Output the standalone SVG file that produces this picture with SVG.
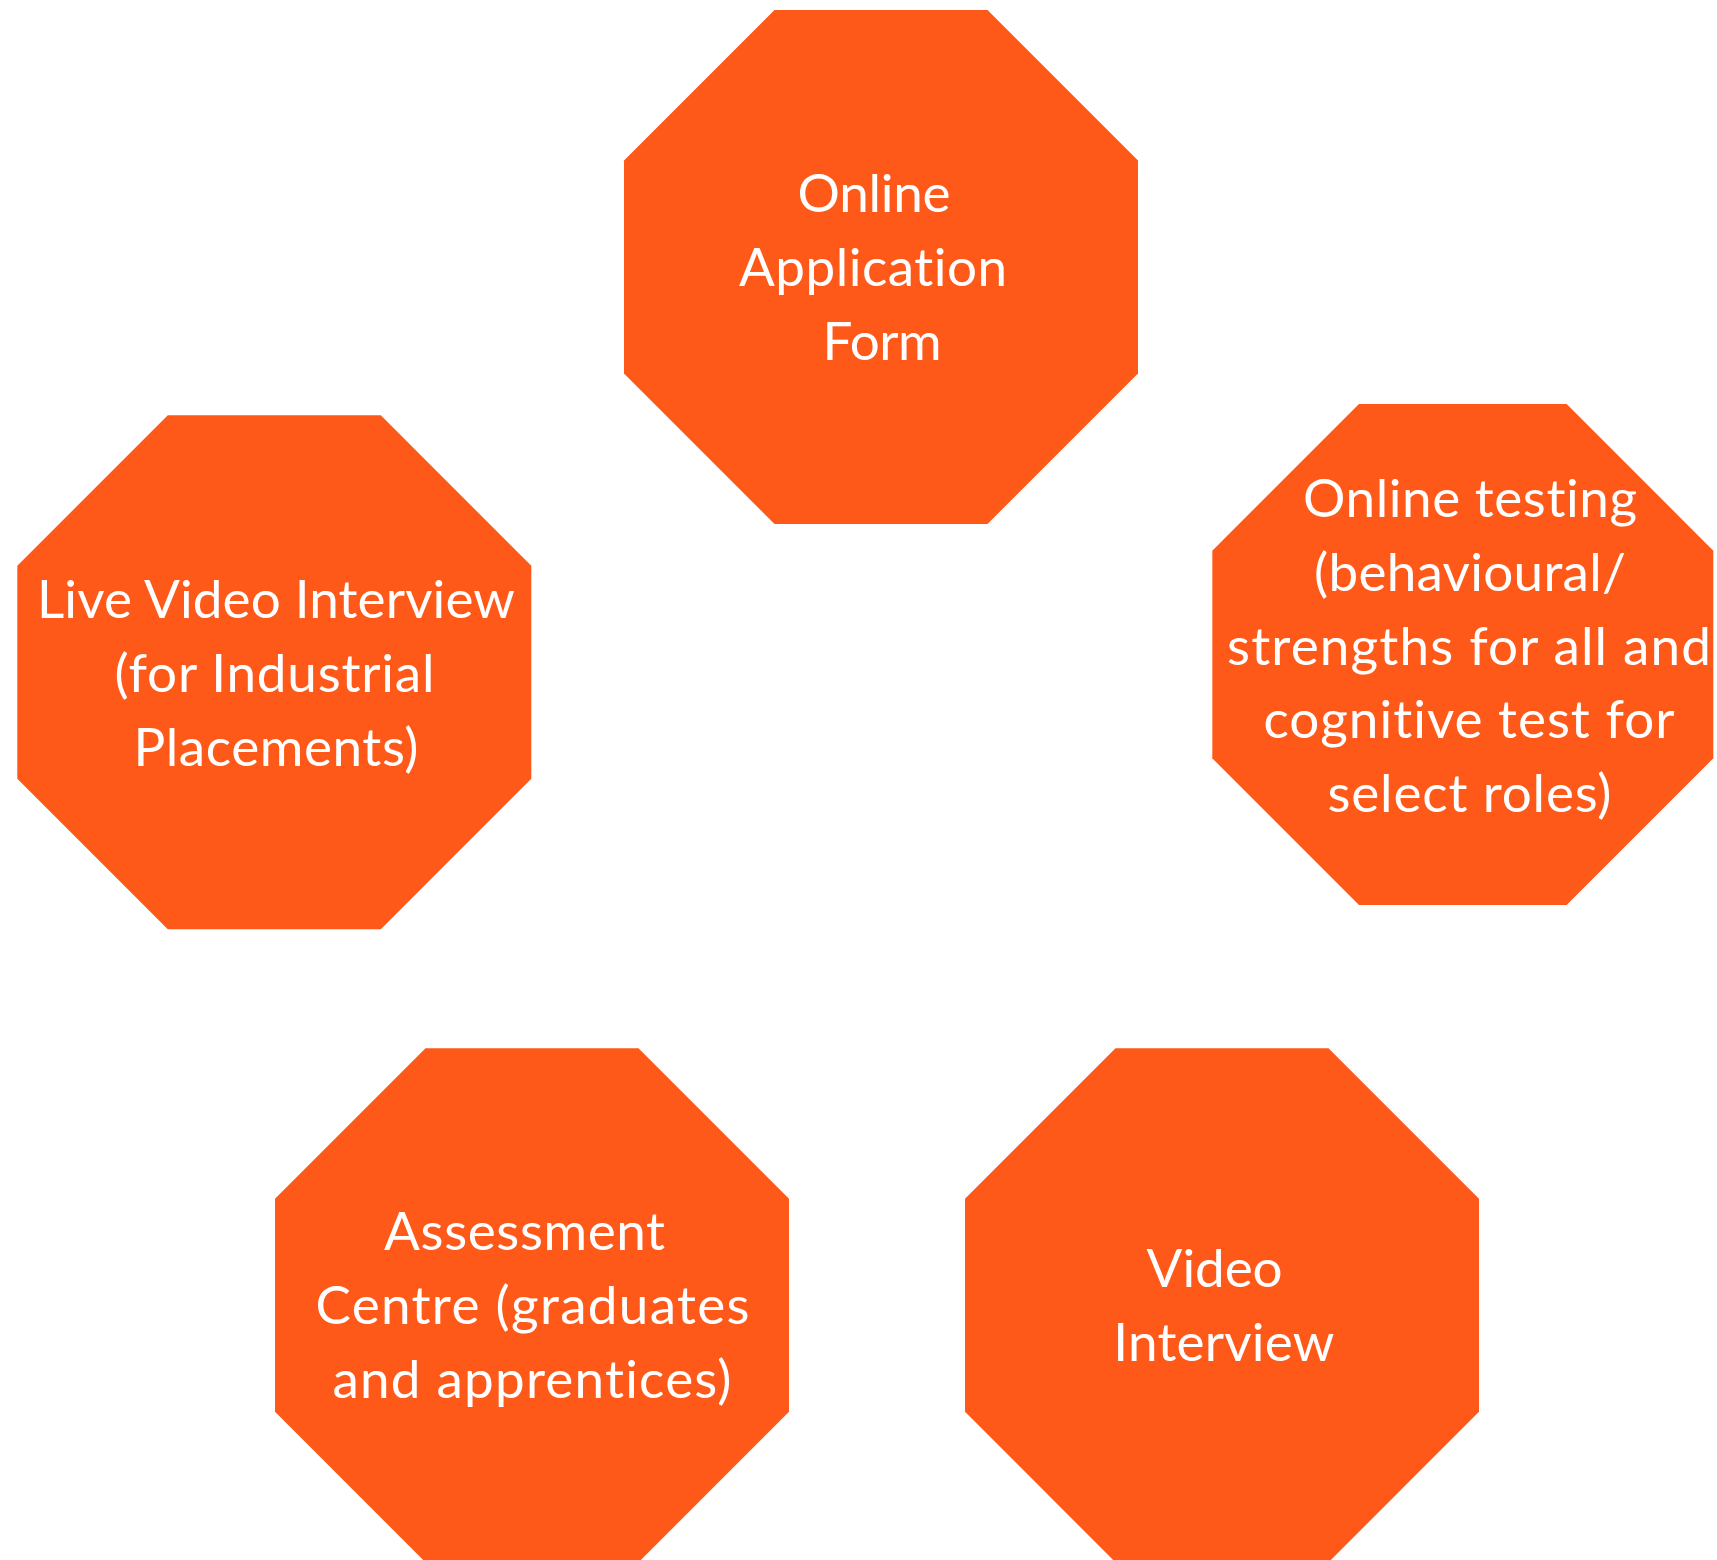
<svg xmlns="http://www.w3.org/2000/svg" xmlns:xlink="http://www.w3.org/1999/xlink" width="1717" height="1560" viewBox="0 0 1717 1560">
  <style>
    .oct { fill: #FE5919; }
    .lbl { fill: #FFFFFF; font-family: Lato, "Open Sans", "Liberation Sans", sans-serif; font-size: 53px; text-anchor: middle; font-variant-ligatures: none; font-feature-settings: "liga" 0, "clig" 0; }
  </style>
  <defs>
    <polygon id="octagon" points="150.5,0 363.5,0 514,150.5 514,363.5 363.5,514 150.5,514 0,363.5 0,150.5"/>
  </defs>
  <rect x="0" y="0" width="1717" height="1560" fill="#FFFFFF"/>
  <g id="connectors"></g>
  <g id="node-online-application">
    <use xlink:href="#octagon" href="#octagon" class="oct" transform="translate(624,10)"/>
    <text class="lbl" x="874" y="212" textLength="153" lengthAdjust="spacing">Online</text>
    <text class="lbl" x="873" y="286" textLength="268" lengthAdjust="spacing">Application</text>
    <text class="lbl" x="882" y="360" textLength="119" lengthAdjust="spacing">Form</text>
  </g>
  <g id="node-online-testing">
    <use xlink:href="#octagon" href="#octagon" class="oct" transform="translate(1212.3,404) scale(0.9747)"/>
    <text class="lbl" x="1470" y="517" textLength="334" lengthAdjust="spacing">Online testing</text>
    <text class="lbl" x="1470" y="591" textLength="312" lengthAdjust="spacing">(behavioural/</text>
    <text class="lbl" x="1469" y="664.5" textLength="484" lengthAdjust="spacing">strengths for all and</text>
    <text class="lbl" x="1469" y="738" textLength="411" lengthAdjust="spacing">cognitive test for</text>
    <text class="lbl" x="1469.5" y="812" textLength="284" lengthAdjust="spacing">select roles)</text>
  </g>
  <g id="node-live-video">
    <use xlink:href="#octagon" href="#octagon" class="oct" transform="translate(17.3,415.3)"/>
    <text class="lbl" x="276" y="617.6" textLength="478" lengthAdjust="spacing">Live Video Interview</text>
    <text class="lbl" x="274.5" y="692" textLength="320" lengthAdjust="spacing">(for Industrial</text>
    <text class="lbl" x="276" y="765.7" textLength="285" lengthAdjust="spacing">Placements)</text>
  </g>
  <g id="node-assessment-centre">
    <use xlink:href="#octagon" href="#octagon" class="oct" transform="translate(275,1048.3)"/>
    <text class="lbl" x="524.6" y="1250.4" textLength="281" lengthAdjust="spacing">Assessment</text>
    <text class="lbl" x="532.5" y="1324" textLength="434" lengthAdjust="spacing">Centre (graduates</text>
    <text class="lbl" x="532" y="1398" textLength="399" lengthAdjust="spacing">and apprentices)</text>
  </g>
  <g id="node-video-interview">
    <use xlink:href="#octagon" href="#octagon" class="oct" transform="translate(965,1048.3)"/>
    <text class="lbl" x="1214.6" y="1287" textLength="136" lengthAdjust="spacing">Video</text>
    <text class="lbl" x="1223.8" y="1361.3" textLength="221" lengthAdjust="spacing">Interview</text>
  </g>
</svg>
